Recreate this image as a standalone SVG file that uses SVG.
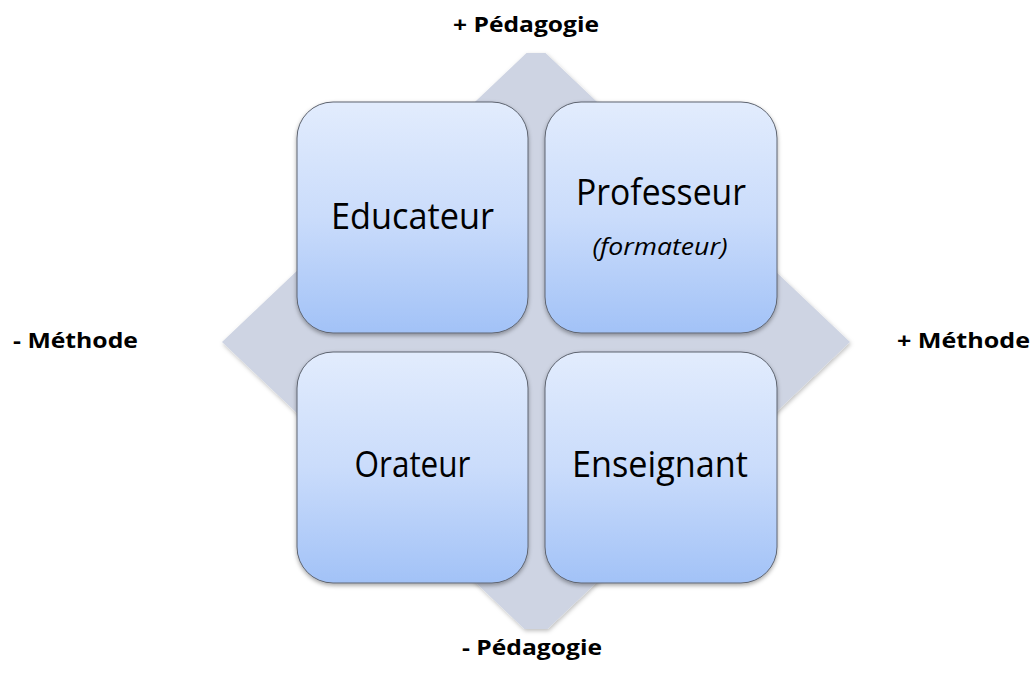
<svg xmlns="http://www.w3.org/2000/svg" width="1032" height="673" viewBox="0 0 1032 673">
<style>
.box{fill:url(#g);stroke:#5e6470;stroke-width:1;filter:url(#sh)}
.t{font-family:"Open Sans","Noto Sans","Liberation Sans",sans-serif;fill:#000;text-anchor:middle}
.big{font-size:37px}
.lab{font-family:"Open Sans","Noto Sans","Liberation Sans",sans-serif;font-weight:bold;font-size:22px;fill:#000}
</style>
<defs>
<linearGradient id="g" x1="0" y1="0" x2="0" y2="1">
<stop offset="0" stop-color="#E2ECFD"/>
<stop offset="0.5" stop-color="#CADCFB"/>
<stop offset="1" stop-color="#A2C2F7"/>
</linearGradient>
<filter id="sh" x="-10%" y="-10%" width="120%" height="125%">
<feDropShadow dx="0" dy="2" stdDeviation="2" flood-color="#000" flood-opacity="0.35"/>
</filter>
<filter id="dsh" x="-10%" y="-10%" width="120%" height="120%">
<feDropShadow dx="1" dy="2" stdDeviation="2" flood-color="#000" flood-opacity="0.25"/>
</filter>
</defs>
<rect width="1032" height="673" fill="#fff"/>
<g id="background">
<polygon points="526.5,53 545.5,53 850,342 547.6,629 524.4,629 222,342" fill="#CED4E3" filter="url(#dsh)"/>
</g>
<g id="connectors"></g>
<g id="educateur">
<rect class="box" x="297" y="102" width="231" height="231" rx="36" ry="36"/>
<text class="t big" x="412.5" y="229" textLength="163" lengthAdjust="spacingAndGlyphs">Educateur</text>
</g>
<g id="professeur">
<rect class="box" x="545" y="102" width="232" height="231" rx="36" ry="36"/>
<text class="t big" x="661" y="205" textLength="170" lengthAdjust="spacingAndGlyphs">Professeur</text>
<text class="t" x="660" y="255" font-size="24" font-style="italic" textLength="135" lengthAdjust="spacingAndGlyphs">(formateur)</text>
</g>
<g id="orateur">
<rect class="box" x="297" y="352" width="231" height="231" rx="36" ry="36"/>
<text class="t big" x="412.5" y="477" textLength="116" lengthAdjust="spacingAndGlyphs">Orateur</text>
</g>
<g id="enseignant">
<rect class="box" x="545" y="352" width="232" height="231" rx="36" ry="36"/>
<text class="t big" x="660" y="477" textLength="176" lengthAdjust="spacingAndGlyphs">Enseignant</text>
</g>
<g id="labels">
<text class="lab" x="453" y="32" textLength="146" lengthAdjust="spacingAndGlyphs">+ Pédagogie</text>
<text class="lab" x="462" y="655" textLength="140" lengthAdjust="spacingAndGlyphs">- Pédagogie</text>
<text class="lab" x="13" y="348" textLength="125" lengthAdjust="spacingAndGlyphs">- Méthode</text>
<text class="lab" x="897" y="348" textLength="133" lengthAdjust="spacingAndGlyphs">+ Méthode</text>
</g>
</svg>
